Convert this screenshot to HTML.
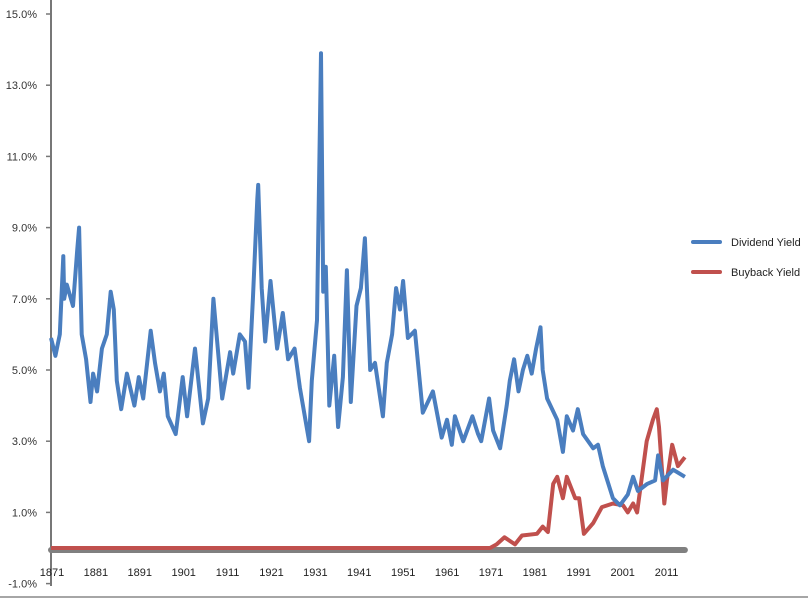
<!DOCTYPE html>
<html><head><meta charset="utf-8"><style>
html,body{margin:0;padding:0;background:#fff;}
svg{display:block;font-family:"Liberation Sans",sans-serif;}
</style></head><body>
<svg id="chart" width="808" height="599" viewBox="0 0 808 599">
<g id="axes"></g>
<g id="series"></g>
<g>
<line x1="693" y1="242" x2="720" y2="242" stroke="#4a7ebf" stroke-width="4" stroke-linecap="round"/>
<text x="731" y="246" font-size="11" fill="#222">Dividend Yield</text>
<line x1="693" y1="272" x2="720" y2="272" stroke="#c0504d" stroke-width="4" stroke-linecap="round"/>
<text x="731" y="276" font-size="11" fill="#222">Buyback Yield</text>
</g>
</svg>
<script>
const yTicks=[15,13,11,9,7,5,3,1,-1];
const yTickLabels=["15.0%","13.0%","11.0%","9.0%","7.0%","5.0%","3.0%","1.0%","-1.0%"];
const xTicks=[1871,1881,1891,1901,1911,1921,1931,1941,1951,1961,1971,1981,1991,2001,2011];
const divYears=[1871,1872,1873,1873.8,1874,1874.6,1876,1877,1877.4,1878,1879,1880,1880.6,1881.5,1882.6,1883.7,1884.6,1885.3,1886,1887,1888.3,1890,1891,1892,1893.7,1894.7,1895.8,1896.7,1897.6,1899.4,1901,1902,1903.8,1905.6,1906.8,1908,1910,1911.8,1912.5,1914,1915.2,1916,1917,1918,1918.2,1919,1919.8,1921,1922.5,1923.8,1925,1926.5,1927.7,1929.8,1930.4,1931.6,1932,1932.5,1933,1933.6,1934.4,1935.5,1936.4,1937.5,1938.4,1939.3,1940.6,1941.6,1942.5,1943.7,1944.8,1946.6,1947.5,1948.7,1949.6,1950.5,1951.2,1952.3,1953.9,1955.7,1958,1960,1961.2,1962.3,1963,1964.9,1967,1968.3,1969,1970.8,1971.7,1973.3,1974.8,1975.5,1976.5,1977.5,1978.5,1979.5,1980.5,1981.5,1982.5,1983,1984,1986.3,1987.6,1988.5,1989.9,1991,1992.2,1994.5,1995.6,1996.7,1999,2000.6,2002.4,2003.6,2004.7,2006.8,2008.6,2009.3,2010.4,2012.7,2015.4];
const divValues=[5.9,5.4,6.0,8.2,7.0,7.4,6.8,8.4,9.0,6.0,5.3,4.1,4.9,4.4,5.6,6.0,7.2,6.7,4.7,3.9,4.9,4.0,4.8,4.2,6.1,5.2,4.4,4.9,3.7,3.2,4.8,3.7,5.6,3.5,4.2,7.0,4.2,5.5,4.9,6.0,5.8,4.5,7.0,9.8,10.2,7.3,5.8,7.5,5.6,6.6,5.3,5.6,4.5,3.0,4.7,6.4,9.8,13.9,7.2,7.9,4.0,5.4,3.4,4.8,7.8,4.1,6.8,7.3,8.7,5.0,5.2,3.7,5.2,6.0,7.3,6.7,7.5,5.9,6.1,3.8,4.4,3.1,3.6,2.9,3.7,3.0,3.7,3.2,3.0,4.2,3.3,2.8,4.0,4.7,5.3,4.4,5.0,5.4,4.9,5.6,6.2,5.0,4.2,3.6,2.7,3.7,3.3,3.9,3.2,2.8,2.9,2.3,1.4,1.2,1.5,2.0,1.6,1.8,1.9,2.6,1.9,2.2,2.0];
const bbYears=[1871,1971,1972.5,1974.3,1976.7,1978.3,1981.7,1983,1984.2,1985.4,1986.3,1987.6,1988.5,1990.4,1991.3,1992.4,1994.5,1996.5,1999,2001.3,2002.4,2003.6,2004.5,2006.7,2008.1,2009,2009.5,2010.7,2011.3,2012.5,2013.8,2015.4];
const bbValues=[0,0,0.1,0.3,0.1,0.35,0.4,0.6,0.45,1.8,2.0,1.4,2.0,1.4,1.4,0.4,0.7,1.15,1.25,1.2,1.0,1.25,1.0,3.0,3.6,3.9,3.4,1.25,1.9,2.9,2.3,2.55];

const X=y=>51+(y-1871)*4.39;
const Y=v=>548-v*35.6;
const NS="http://www.w3.org/2000/svg";
const axes=document.getElementById('axes');
const series=document.getElementById('series');
function mk(tag,attrs,parent){const e=document.createElementNS(NS,tag);for(const k in attrs)e.setAttribute(k,attrs[k]);parent.appendChild(e);return e;}

let e=mk('line',{x1:0,y1:597,x2:808,y2:597,stroke:'#888','stroke-width':1.5},axes);


e=mk('line',{x1:51,y1:0,x2:51,y2:586,stroke:'#777','stroke-width':2},axes);


yTicks.forEach((t,i)=>{
  const tk=mk('line',{x1:46,y1:Y(t),x2:51,y2:Y(t),stroke:'#777','stroke-width':1.5},axes);
  
  
  const tx=mk('text',{x:37,y:Y(t)+4,'text-anchor':'end','font-size':11,fill:'#333'},axes);
  tx.textContent=yTickLabels[i];
  
  
});
xTicks.forEach(t=>{
  const tx=mk('text',{x:X(t)+1,y:576,'text-anchor':'middle','font-size':11,fill:'#222'},axes);
  tx.textContent=t;
  
  
});
e=mk('line',{x1:X(1871),y1:Y(0)+2,x2:X(2015.4),y2:Y(0)+2,stroke:'#808080','stroke-width':6,'stroke-linecap':'round'},axes);



function path(xs,vs){return xs.map((x,i)=>(i?'L':'M')+X(x).toFixed(1)+','+Y(vs[i]).toFixed(1)).join('');}
const bb=mk('path',{d:path(bbYears,bbValues),fill:'none',stroke:'#c0504d','stroke-width':4,'stroke-linejoin':'round'},series);


const dv=mk('path',{d:path(divYears,divValues),fill:'none',stroke:'#4a7ebf','stroke-width':4,'stroke-linejoin':'round'},series);


</script>
</body></html>
